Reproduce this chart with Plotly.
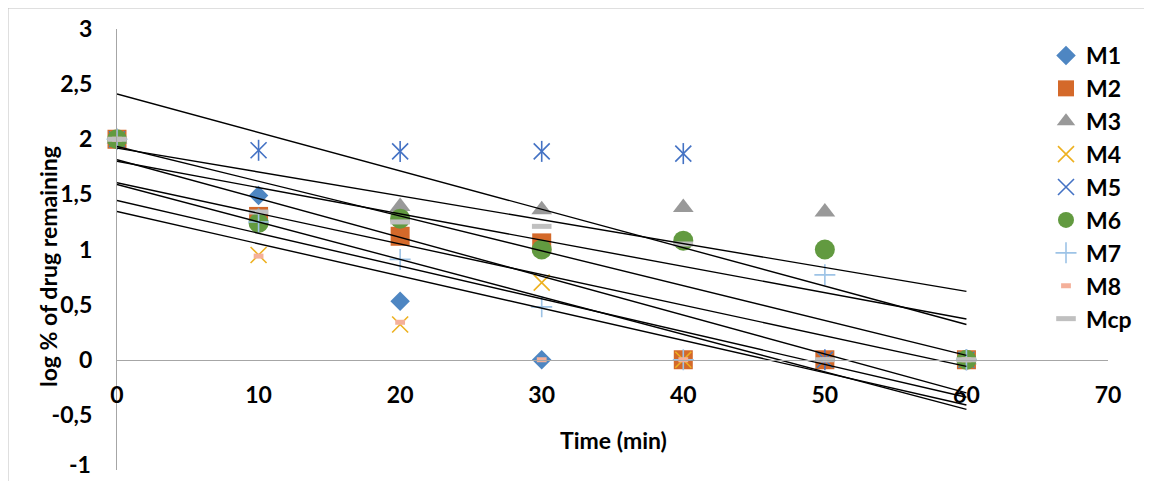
import plotly.graph_objects as go

# ---------------- data ----------------
time_min = [0, 10, 20, 30, 40, 50, 60]

M1 = [2, 1.49, 0.53, 0, 0, 0, 0]
M2 = [2, 1.30, 1.12, 1.06, 0, 0, 0]
M3 = [2, 1.30, 1.39, 1.36, 1.38, 1.34, 0]
M4 = [2, 0.95, 0.32, 0.70, 0, 0, 0]
M5 = [2, 1.90, 1.89, 1.89, 1.87, 0, 0]
M6 = [2, 1.24, 1.28, 1.00, 1.08, 1.00, 0]
M7 = [2, 1.25, 0.91, 0.48, 0, 0.77, 0]
M8 = [2, 0.94, 0.34, 0, 0, 0, 0]
Mcp = [2, 1.34, 1.25, 1.21, 1.05, 0, 0]

series_names = ["M1", "M2", "M3", "M4", "M5", "M6", "M7", "M8", "Mcp"]
series_values = [M1, M2, M3, M4, M5, M6, M7, M8, Mcp]

# linear trendlines (value at t = 0 and at t = 60)
trend_x = [0, 60]
trend_start = [1.59, 1.815, 1.92, 1.445, 2.41, 1.80, 1.605, 1.345, 1.935]
trend_end = [-0.45, -0.30, 0.62, -0.34, 0.32, 0.37, -0.06, -0.41, 0.04]

y_tick_vals = [-1, -0.5, 0, 0.5, 1, 1.5, 2, 2.5, 3]
y_tick_text = ["-1", "-0,5", "0", "0,5", "1", "1,5", "2", "2,5", "3"]
x_tick_vals = [0, 10, 20, 30, 40, 50, 60, 70]
x_tick_text = ["0", "10", "20", "30", "40", "50", "60", "70"]

# ---------------- styles ----------------
styles = {
    "M1": dict(symbol="diamond", size=15, color="#4E86C2", line=dict(width=0)),
    "M2": dict(symbol="square", size=19, color="#D4692A", line=dict(width=0)),
    "M3": dict(symbol="triangle-up", size=18, color="#999999", line=dict(width=0)),
    "M4": dict(symbol="x-thin-open", size=16, color="#EDB120", line=dict(width=1.6, color="#EDB120")),
    "M5": dict(symbol="x-thin-open", size=16, color="#4472C4", line=dict(width=1.6, color="#4472C4")),
    "M6": dict(symbol="circle", size=20, color="#629A40", line=dict(width=0)),
    "M7": dict(symbol="cross-thin-open", size=15, color="#9DC3E6", line=dict(width=1.6, color="#9DC3E6")),
    "M8": dict(symbol="line-ew-open", size=7, color="#F4B09A", line=dict(width=5, color="#F4B09A")),
    "Mcp": dict(symbol="line-ew-open", size=14, color="#C0C0C0", line=dict(width=5, color="#C0C0C0")),
}

FONT = "Lato"
FS = 23
TXT = dict(family=FONT, size=FS, color="black", weight="bold")

fig = go.Figure()

for name, vals in zip(series_names, series_values):
    st = styles[name]
    fig.add_trace(go.Scatter(
        x=time_min, y=vals, mode="markers", name=name,
        legendgroup=name,
        marker=dict(symbol=st["symbol"], size=st["size"], color=st["color"], line=st["line"]),
        cliponaxis=False,
    ))
    if name == "M5":
        # vertical stroke of the asterisk-like marker
        fig.add_trace(go.Scatter(
            x=time_min, y=vals, mode="markers", name=name, showlegend=False,
            legendgroup=name,
            marker=dict(symbol="line-ns-open", size=15, color=st["color"],
                        line=dict(width=1.6, color=st["color"])),
            cliponaxis=False,
        ))

for name, a, b in zip(series_names, trend_start, trend_end):
    fig.add_trace(go.Scatter(
        x=trend_x, y=[a, b], mode="lines", showlegend=False,
        line=dict(color="black", width=1.4), hoverinfo="skip",
    ))

# page pixel geometry (the page body has an 8px margin)
OFF = 8
W, H = 1152 - OFF, 481 - OFF
L, T, R, B = 117 - OFF, 29 - OFF, 1108 - OFF, 470 - OFF  # plot area in figure pixels
zero_frac = (B - (360 - OFF)) / (B - T)

def px(xp):
    return ((xp - OFF) - L) / (R - L)

def py(yp):
    return (B - (yp - OFF)) / (B - T)

# the lowest y label sits on the bottom edge: draw it as an annotation nudged up
y_axis_text = [""] + y_tick_text[1:]

fig.update_layout(
    width=W, height=H,
    margin=dict(l=L, r=W - R, t=T, b=H - B, autoexpand=False),
    paper_bgcolor="white", plot_bgcolor="white",
    font=TXT,
    showlegend=True,
    legend=dict(
        x=px(1046), y=py(34), xanchor="left", yanchor="top",
        bgcolor="rgba(0,0,0,0)", borderwidth=0,
        font=TXT, tracegroupgap=0, itemsizing="trace", maxheight=460,
    ),
    xaxis=dict(
        range=[0, 70], tickvals=x_tick_vals, ticktext=x_tick_text,
        showgrid=False, zeroline=False, showline=True, linecolor="#A6A6A6", linewidth=1.3,
        ticks="", anchor="free", position=zero_frac, ticklabelstandoff=14, automargin=False,
        tickfont=TXT,
    ),
    yaxis=dict(
        range=[-1, 3], tickvals=y_tick_vals, ticktext=y_axis_text,
        showgrid=False, zeroline=False, showline=True, linecolor="#A6A6A6", linewidth=1.3,
        ticks="", ticklabelstandoff=19, ticklabeloverflow="allow", automargin=False,
        tickfont=TXT,
    ),
    annotations=[
        dict(text=y_tick_text[0], x=px(93), y=y_tick_vals[0], xref="paper", yref="y",
             showarrow=False, xanchor="right", yanchor="middle", yshift=6, font=TXT),
        dict(text="Time (min)", x=px(613), y=py(440), xref="paper", yref="paper",
             showarrow=False, xanchor="center", yanchor="middle", font=TXT),
        dict(text="log % of drug remaining", x=px(48), y=py(267), xref="paper", yref="paper",
             showarrow=False, xanchor="center", yanchor="middle", textangle=-90, font=TXT),
    ],
    shapes=[
        # chart frame
        dict(type="line", xref="paper", yref="paper", x0=px(8), x1=px(8), y0=py(8), y1=py(481),
             line=dict(color="#BFBFBF", width=1)),
        dict(type="line", xref="paper", yref="paper", x0=px(8), x1=px(1149), y0=py(8), y1=py(8),
             line=dict(color="#BFBFBF", width=1)),
        dict(type="line", xref="paper", yref="paper", x0=px(1149), x1=px(1149), y0=py(8), y1=py(481),
             line=dict(color="#BFBFBF", width=1)),
    ],
)

fig.write_html("out.html")
